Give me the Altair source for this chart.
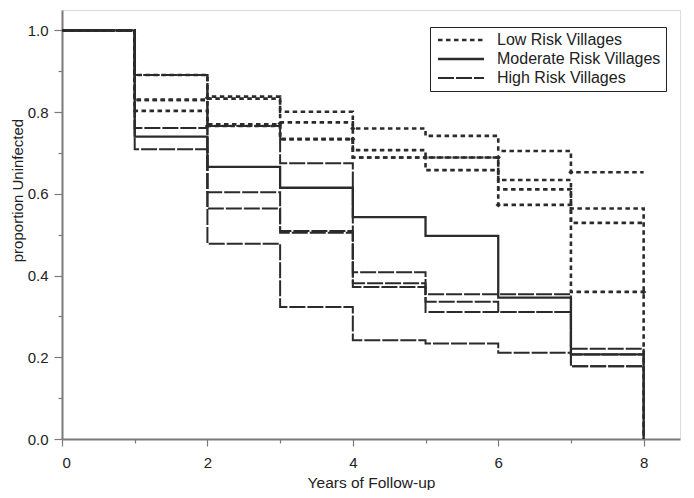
import altair as alt
import pandas as pd

# interval start times (years); each value holds from t to t+1
steps = [0, 1, 2, 3, 4, 5, 6, 7]
end_time = 8

groups = ["Low Risk Villages", "Moderate Risk Villages", "High Risk Villages"]

# Low risk villages (dotted)
low_a = [1.0, 0.891, 0.838, 0.801, 0.760, 0.742, 0.705, 0.653]
low_b = [1.0, 0.830, 0.833, 0.775, 0.707, 0.689, 0.634, 0.564]
low_c = [1.0, 0.830, 0.770, 0.734, 0.689, 0.658, 0.611, 0.529]
low_d = [1.0, 0.803, 0.766, 0.734, 0.689, 0.689, 0.573, 0.360]

# Moderate risk villages (solid)
mod_a = [1.0, 0.740, 0.666, 0.615, 0.543, 0.497, 0.346, 0.207]

# High risk villages (long dash)
high_a = [1.0, 0.891, 0.766, 0.675, 0.408, 0.354, 0.354, 0.221]
high_b = [1.0, 0.891, 0.604, 0.509, 0.381, 0.336, 0.311, 0.207]
high_c = [1.0, 0.761, 0.564, 0.505, 0.372, 0.311, 0.311, 0.178]
high_d = [1.0, 0.709, 0.478, 0.323, 0.242, 0.234, 0.211, 0.178]

# (series name, group, values, drops to zero at the end)
series = [
    ("low_a", groups[0], low_a, False),
    ("low_b", groups[0], low_b, True),
    ("low_c", groups[0], low_c, False),
    ("low_d", groups[0], low_d, False),
    ("mod_a", groups[1], mod_a, True),
    ("high_a", groups[2], high_a, True),
    ("high_b", groups[2], high_b, False),
    ("high_c", groups[2], high_c, False),
    ("high_d", groups[2], high_d, False),
]

# diamond markers on the low-risk curves
mark_t = [2, 2, 3, 4, 4, 6, 6, 7, 8]
mark_p = [0.835, 0.766, 0.772, 0.760, 0.734, 0.689, 0.573, 0.653, 0.360]

rows = []
for name, grp, vals, drop in series:
    k = 0
    for t, v in zip(steps, vals):
        rows.append({"line": name, "group": grp, "t": t, "p": v, "k": k})
        k += 1
    rows.append({"line": name, "group": grp, "t": end_time, "p": vals[-1], "k": k})
    k += 1
    if drop:
        rows.append({"line": name, "group": grp, "t": end_time, "p": 0.0, "k": k})
df = pd.DataFrame(rows)
marks_df = pd.DataFrame({"t": mark_t, "p": mark_p})

FONT = "Liberation Sans"
INK = "#2b2b2b"

x_scale = alt.Scale(domain=[0, 8.5], nice=False, zero=False)
y_scale = alt.Scale(domain=[0, 1.05], nice=False)

x_axis = alt.Axis(
    values=list(range(0, 9)),
    labelExpr="datum.value % 2 == 0 ? format(datum.value, 'd') : ''",
    tickSize={"condition": {"test": "datum.value % 2 == 0", "value": 7}, "value": 4},
    grid=False,
    domainColor="#7a7a7a", domainWidth=2,
    tickColor="#7a7a7a", tickWidth=1.2,
    labelFontSize=15, labelColor="#222", labelPadding=9, labelFont=FONT,
    titleFontSize=15.5, titleFontWeight="normal", titleColor="#222", titleFont=FONT,
    titleY=48, titleBaseline="alphabetic", titleAlign="center",
)
y_axis = alt.Axis(
    values=[round(i * 0.1, 1) for i in range(11)],
    labelExpr="round(datum.value*10) % 2 == 0 ? format(datum.value, '.1f') : ''",
    tickSize={"condition": {"test": "round(datum.value*10) % 2 == 0", "value": 8}, "value": 4},
    grid=False,
    domainColor="#7a7a7a", domainWidth=2,
    tickColor="#7a7a7a", tickWidth=1.2,
    labelFontSize=15, labelColor="#222", labelPadding=6, labelFont=FONT,
    titleFontSize=15, titleFontWeight="normal", titleColor="#222", titleFont=FONT,
    titleX=-37, titleY=180, titleAlign="center", titleBaseline="bottom", titleAngle=270,
)

lines = alt.Chart(df).mark_line(interpolate="step-after", color=INK).encode(
    x=alt.X("t:Q", scale=x_scale, axis=x_axis, title="Years of Follow-up"),
    y=alt.Y("p:Q", scale=y_scale, axis=y_axis, title="proportion Uninfected"),
    detail="line:N",
    order="k:Q",
    strokeDash=alt.StrokeDash(
        "group:N",
        scale=alt.Scale(domain=groups, range=[[4.5, 3.5], [1, 0], [16, 2]]),
        legend=alt.Legend(
            title=None,
            orient="none",
            legendX=368,
            legendY=17,
            symbolType="M-1,0H8.2",
            symbolSize=100,
            symbolStrokeWidth=2.5,
            symbolStrokeColor=INK,
            labelFontSize=16,
            labelFont=FONT,
            labelColor="#222",
            labelOffset=46,
            labelLimit=300,
            rowPadding=3,
            padding=5,
            strokeColor="#222",
            fillColor="white",
        ),
    ),
    strokeWidth=alt.StrokeWidth(
        "group:N",
        scale=alt.Scale(domain=groups, range=[2.6, 2.0, 2.0]),
        legend=None,
    ),
)

points = alt.Chart(marks_df).mark_point(shape="diamond", filled=True, size=28, color=INK, opacity=1).encode(
    x=alt.X("t:Q", scale=x_scale),
    y=alt.Y("p:Q", scale=y_scale),
)

chart = alt.layer(lines, points).properties(
    width=618,
    height=429,
    autosize=alt.AutoSizeParams(type="none"),
    padding={"left": 54, "top": 2, "right": 6, "bottom": 51},
).configure_view(
    stroke="#111", strokeWidth=2
).configure(font=FONT)

chart.save("out.html", embed_options={"renderer": "svg", "actions": False})
